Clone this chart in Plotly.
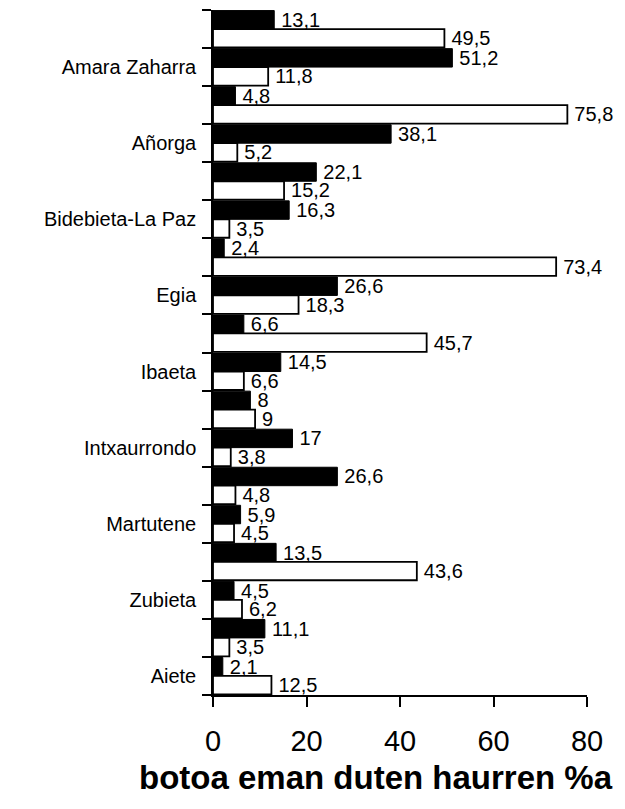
import plotly.graph_objects as go

# one row per district, only every other row carries a label in the source
labels = ["", "Amara Zaharra", "", "Añorga", "", "Bidebieta-La Paz", "",
          "Egia", "", "Ibaeta", "", "Intxaurrondo", "", "Martutene", "",
          "Zubieta", "", "Aiete"]
black_vals = [13.1, 51.2, 4.8, 38.1, 22.1, 16.3, 2.4, 26.6, 6.6,
              14.5, 8, 17, 26.6, 5.9, 13.5, 4.5, 11.1, 2.1]
white_vals = [49.5, 11.8, 75.8, 5.2, 15.2, 3.5, 73.4, 18.3, 45.7,
              6.6, 9, 3.8, 4.8, 4.5, 43.6, 6.2, 3.5, 12.5]
x_ticks = [0, 20, 40, 60, 80]
x_title = "botoa eman duten haurren %a"

rows = list(range(len(labels)))
font = "Liberation Sans, Arial, sans-serif"

fig = go.Figure()
fig.add_trace(go.Bar(
    y=rows, x=black_vals, orientation="h",
    marker=dict(color="black", line=dict(color="black", width=1)),
    texttemplate="\u2009%{x}", textposition="outside", constraintext="none",
    textfont=dict(family=font, size=20, color="black"),
    cliponaxis=False, showlegend=False,
))
fig.add_trace(go.Bar(
    y=rows, x=white_vals, orientation="h",
    marker=dict(color="white", line=dict(color="black", width=1.8)),
    texttemplate="\u2009%{x}", textposition="outside", constraintext="none",
    textfont=dict(family=font, size=20, color="black"),
    cliponaxis=False, showlegend=False,
))

fig.update_layout(
    width=625, height=809,
    barmode="group", bargap=0.03, bargroupgap=0,
    separators=",.",
    plot_bgcolor="white", paper_bgcolor="white",
    margin=dict(l=205, r=46, t=2, b=122),
    font=dict(family=font, color="black"),
)
fig.update_xaxes(
    range=[0, 80], tickvals=x_ticks, showgrid=False, zeroline=False,
    showline=True, linecolor="black", linewidth=1.5,
    ticks="outside", ticklen=10, tickwidth=1.5, tickcolor="black",
    tickfont=dict(size=29), ticklabelstandoff=9,
)
fig.update_yaxes(
    range=[len(labels) - 0.5, -0.5], showgrid=False, zeroline=False,
    tickvals=[i for i, t in enumerate(labels) if t],
    ticktext=[t for t in labels if t],
    ticks="", tickfont=dict(size=20), ticklabelstandoff=11,
    showline=True, linecolor="black", linewidth=1.5,
    minor=dict(tickmode="linear", tick0=-0.5, dtick=1, ticks="outside",
               ticklen=9, tickwidth=1.5, tickcolor="black", showgrid=False),
)
fig.add_annotation(
    text="<b>" + x_title + "</b>", xref="paper", yref="paper",
    x=0.436, y=-0.121, xanchor="center", yanchor="middle",
    showarrow=False, font=dict(size=33, color="black"),
)

fig.write_html("out.html")
